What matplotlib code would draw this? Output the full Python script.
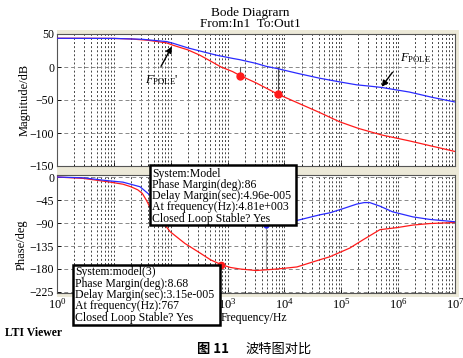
import numpy as np
import matplotlib
matplotlib.use("Agg")
import matplotlib.pyplot as plt
from matplotlib.patches import Rectangle
from matplotlib.ticker import FixedLocator, NullFormatter

# ---------------- data ----------------
# magnitude, model(3) (red)
mag_red_logf = [0, 0.5, 1.0, 1.3, 1.6, 1.93, 2.04, 2.3, 2.51, 2.7, 2.885, 3.09, 3.22,
                3.5, 3.88, 4.25, 4.62, 4.97, 5.3, 5.71, 6.2, 6.6, 7.0]
mag_red = [43.5, 43.5, 43.3, 42.5, 40.5, 36.5, 33, 26, 18, 9, 0, -7, -13,
           -24, -41, -55, -69, -83, -93, -103, -112, -120, -128]
# magnitude, Model (blue)
mag_blue_logf = [0, 1.0, 1.5, 1.93, 2.04, 2.3, 2.57, 2.8, 3.09, 3.22, 3.5, 3.68, 3.88,
                 4.25, 4.62, 5.0, 5.27, 5.5, 5.71, 6.2, 6.6, 7.0]
mag_blue = [43.5, 43.3, 42, 38.5, 36, 29, 23, 18, 13, 11, 5.5, 1.0, -2.5,
            -10, -17, -23, -27, -29, -31, -38, -46, -53]
# phase, model(3) (red)
ph_red_logf = [0, 0.46, 0.88, 1.16, 1.3, 1.42, 1.5, 1.57, 1.63, 1.8, 1.9, 1.99, 2.25, 2.52,
               2.7, 2.885, 3.05, 3.22, 3.5, 3.88, 4.22, 4.62, 4.8, 5.15, 5.38, 5.68,
               5.98, 6.26, 6.56, 7.0]
ph_red = [0, -2.6, -9, -14, -19, -25, -32, -45, -58, -82, -94, -107, -130, -149,
          -162, -171.3, -177, -180, -183, -180, -176, -162, -156, -139, -123, -103,
          -99, -94, -91, -89]
# phase, Model (blue)
ph_blue_logf = [0, 0.46, 0.88, 1.16, 1.46, 1.63, 2.0, 2.5, 3.0, 3.4, 3.68, 3.95, 4.22,
                4.62, 4.8, 5.0, 5.27, 5.4, 5.5, 5.68, 5.9, 6.26, 6.56, 7.0]
ph_blue = [0, -1.5, -7, -10, -19, -35, -58, -80, -90, -93, -94, -91, -85,
           -74, -70, -63, -53, -50, -50, -57, -68, -78, -83, -87.5]

gm_freqs_red = [1660, 7590]      # Hz, gain-margin markers
pm_freq_red = 767                # Hz
pm_freq_blue = 4810              # Hz

mag_yticks = [50, 0, -50, -100, -150]
ph_yticks = [0, -45, -90, -135, -180, -225]
x_decades = [0, 1, 2, 3, 4, 5, 6, 7]
x_labels = [r"$10^{0}$", "", "", r"$10^{3}$", r"$10^{4}$", r"$10^{5}$",
            r"$10^{6}$", r"$10^{7}$"]   # 10^1, 10^2 hidden under the data tip

box_blue_lines = ["System:Model", "Phase Margin(deg):86", "Delay Margin(sec):4.96e-005",
                  "At frequency(Hz):4.81e+003", "Closed Loop Stable? Yes"]
box_red_lines = ["System:model(3)", "Phase Margin(deg):8.68", "Delay Margin(sec):3.15e-005",
                 "At frequency(Hz):767", "Closed Loop Stable? Yes"]

# ---------------- figure ----------------
W, H = 463, 358
SERIF = ["Liberation Serif", "DejaVu Serif"]
plt.rcParams["font.family"] = SERIF
plt.rcParams["mathtext.fontset"] = "custom"
plt.rcParams["mathtext.rm"] = "Liberation Serif"
plt.rcParams["mathtext.it"] = "Liberation Serif:italic"

fig = plt.figure(figsize=(W / 100, H / 100), dpi=100)
fig.patch.set_facecolor("white")


def fx(x):
    return x / W


def fy(y):
    return 1 - y / H


# beige viewer frame
fig.add_artist(Rectangle((fx(57), fy(297)), fx(459) - fx(57), fy(30) - fy(297),
                         transform=fig.transFigure, facecolor="#ece9d8",
                         edgecolor="none", zorder=-5))

ax1 = fig.add_axes([fx(57), fy(166), fx(455) - fx(57), fy(34) - fy(166)])
ax2 = fig.add_axes([fx(57), fy(293), fx(455) - fx(57), fy(175) - fy(293)])

red = "#ff1a1a"
blue = "#2a2aff"

f_mr = 10 ** np.array(mag_red_logf)
f_mb = 10 ** np.array(mag_blue_logf)
f_pr = 10 ** np.array(ph_red_logf)
f_pb = 10 ** np.array(ph_blue_logf)

ax1.plot(f_mr, mag_red, color=red, lw=0.9, zorder=3)
ax1.plot(f_mb, mag_blue, color=blue, lw=0.9, zorder=3)
ax2.plot(f_pr, ph_red, color=red, lw=0.9, zorder=3)
ax2.plot(f_pb, ph_blue, color=blue, lw=0.9, zorder=3)

# gain-margin markers (magnitude)
for f in gm_freqs_red:
    m = np.interp(np.log10(f), mag_red_logf, mag_red)
    ax1.plot([f, f], [0, m], color="#555555", lw=0.8, zorder=2)
    ax1.plot(f, m, "o", color=red, ms=5, zorder=4)

# phase-margin markers
pr = np.interp(np.log10(pm_freq_red), ph_red_logf, ph_red)
ax2.plot([pm_freq_red, pm_freq_red], [-180, pr], color="#777777", lw=0.8, zorder=2)
ax2.plot(pm_freq_red, pr, "o", color=red, ms=4.5, zorder=4)
pb = np.interp(np.log10(pm_freq_blue), ph_blue_logf, ph_blue)
ax2.plot([pm_freq_blue, pm_freq_blue], [-180, pb], color="#999999", lw=0.8, zorder=2)
ax2.plot(pm_freq_blue, pb, "o", color=blue, ms=3.5, zorder=4)

minors = [d * 10 ** k for k in range(7) for d in range(2, 10)]
for ax in (ax1, ax2):
    ax.set_xscale("log")
    ax.set_xlim(1, 1e7)
    ax.xaxis.set_major_locator(FixedLocator([10.0 ** k for k in x_decades]))
    ax.xaxis.set_minor_locator(FixedLocator(minors))
    ax.xaxis.set_minor_formatter(NullFormatter())
    ax.grid(True, axis="x", which="both", color="#444444", lw=0.7, ls=(0, (2, 2.2)))
    ax.grid(True, axis="y", which="major", color="#888888", lw=0.7, ls=(0, (4, 3)))
    ax.tick_params(direction="in", length=3, width=0.6, labelsize=8.5, pad=2)
    ax.tick_params(which="minor", direction="in", length=1.5, width=0.5)
    for s in ax.spines.values():
        s.set_color("#555555")
        s.set_linewidth(0.8)
    ax.set_facecolor("white")

ax1.set_ylim(-150, 50)
ax1.set_yticks(mag_yticks)
ax1.set_yticklabels(["50", "0", "\u221250", "\u2212100", "\u2212150"])
ax1.tick_params(labelbottom=False)

ax2.set_ylim(-227, 4)
ax2.set_yticks(ph_yticks)
ax2.set_yticklabels(["0", "\u221245", "\u221290", "\u2212135", "\u2212180", "\u2212225"])
ax2.set_xticklabels(x_labels)
ax2.tick_params(axis="x", labelsize=9, pad=3)

# titles / labels
fig.text(fx(250), fy(13), "Bode Diagrarn", ha="center", va="center", fontsize=9.5)
fig.text(fx(250), fy(24), "From:In1  To:Out1", ha="center", va="center", fontsize=9.5)
fig.text(fx(25), fy(100), "Magnitude/dB", rotation=90, ha="center", va="center", fontsize=9)
fig.text(fx(22), fy(245), "Phase/deg", rotation=90, ha="center", va="center", fontsize=9)
fig.text(fx(221), fy(318), "Frequency/Hz", ha="left", va="center", fontsize=8.5)
fig.text(fx(5), fy(333), "LTI Viewer", ha="left", va="center", fontsize=8.5,
         fontweight="bold")
fig.text(fx(197), fy(349), "图 11", ha="left", va="center", fontsize=9.5,
         family=["Noto Sans CJK SC", "DejaVu Sans"], fontweight="bold")
fig.text(fx(245), fy(349), "波特图对比", ha="left", va="center", fontsize=9.5,
         family=["Noto Sans CJK SC", "DejaVu Sans"])

# F_POLE annotations
ax1.annotate("", xy=(10 ** 2.02, 31), xytext=(10 ** 1.83, 1),
             arrowprops=dict(arrowstyle="-|>", color="black", lw=1.0,
                             mutation_scale=9, shrinkA=0, shrinkB=0))
fig.text(fx(145), fy(80), r"$F_{\rm POLE}$'", ha="left", va="center", fontsize=9)
ax1.annotate("", xy=(10 ** 5.71, -30), xytext=(10 ** 5.9, -8),
             arrowprops=dict(arrowstyle="-|>", color="black", lw=1.0,
                             mutation_scale=9, shrinkA=0, shrinkB=0))
fig.text(fx(400), fy(58), r"$F_{\rm POLE}$", ha="left", va="center", fontsize=9)


# data-tip boxes
def tipbox(x0, y0, x1, y1, lines, tx, ty0, dy):
    fig.add_artist(Rectangle((fx(x0), fy(y1)), fx(x1) - fx(x0), fy(y0) - fy(y1),
                             transform=fig.transFigure, facecolor="white",
                             edgecolor="black", lw=1.8, zorder=6))
    for i, s in enumerate(lines):
        fig.text(fx(tx), fy(ty0 + i * dy), s, ha="left", va="center",
                 fontsize=8.5, zorder=7)


tipbox(150, 165, 296, 225, box_blue_lines, 152, 173.5, 11.3)
tipbox(73, 265, 220, 325, box_red_lines, 75, 272, 11.5)

fig.savefig("out.png", dpi=100)
